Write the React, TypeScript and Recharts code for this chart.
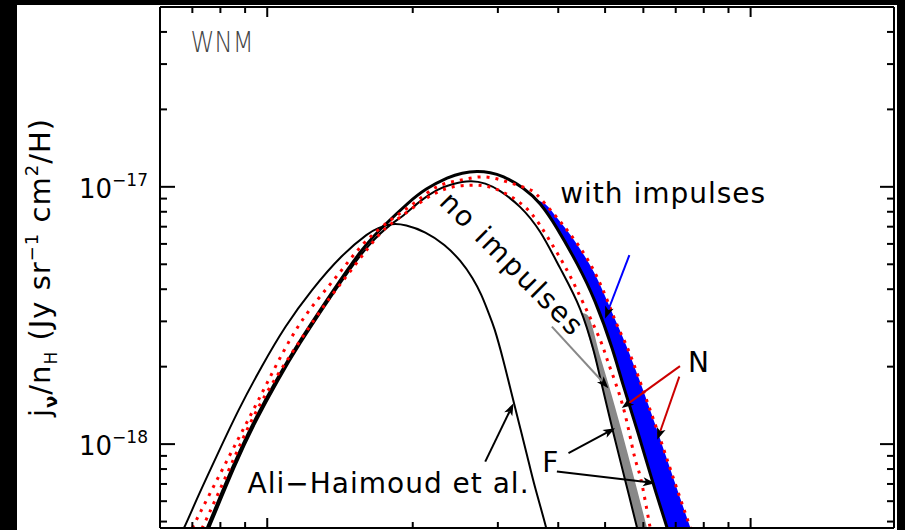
import {
  Area,
  ComposedChart,
  Line,
  ReferenceDot,
  ReferenceLine,
  XAxis,
  YAxis,
} from "recharts";

type Pt = [number, number];
type Band = [number, number, number];

// frequency (GHz) vs emissivity per H (Jy sr^-1 cm^2 / H)
const aliHaimoud: Pt[] = [
  [6.25, 3.55e-19], [6.73, 4.73e-19], [7.19, 6.25e-19], [7.85, 8.94e-19],
  [8.73, 1.358e-18], [9.74, 2.0e-18], [10.91, 2.86e-18], [12.38, 3.97e-18],
  [14.23, 5.35e-18], [16.03, 6.49e-18], [16.98, 6.91e-18], [18.07, 7.15e-18],
  [19.4, 7.07e-18], [21.24, 6.64e-18], [23.24, 5.94e-18], [25.08, 5.15e-18],
  [26.57, 4.42e-18], [27.72, 3.8e-18], [28.66, 3.26e-18], [29.56, 2.78e-18],
  [30.78, 2.12e-18], [31.97, 1.595e-18], [33.21, 1.198e-18], [34.5, 9.0e-19],
  [35.84, 6.76e-19], [37.76, 4.73e-19], [39.04, 3.55e-19],
];

const withImpulses: Pt[] = [
  [7.05, 3.55e-19], [7.52, 4.73e-19], [8.49, 8.15e-19], [9.43, 1.24e-18],
  [10.43, 1.76e-18], [11.62, 2.47e-18], [13.51, 3.8e-18], [15.59, 5.58e-18],
  [17.42, 7.04e-18], [19.47, 8.57e-18], [21.34, 9.8e-18], [23.55, 1.081e-17],
  [25.32, 1.13e-17], [27.16, 1.146e-17], [28.93, 1.135e-17], [30.83, 1.093e-17],
  [33.9, 9.86e-18], [36.71, 8.57e-18], [39.74, 6.91e-18], [43.71, 5.04e-18],
  [47.69, 3.57e-18], [51.69, 2.36e-18], [54.48, 1.7e-18], [58.5, 1.105e-18],
  [62.54, 7.26e-19], [67.07, 4.77e-19], [70.44, 3.55e-19],
];

const noImpulses: Pt[] = [
  [7.12, 3.55e-19], [7.59, 4.73e-19], [8.57, 8.15e-19], [9.52, 1.24e-18],
  [10.53, 1.76e-18], [11.73, 2.47e-18], [13.64, 3.8e-18], [15.74, 5.53e-18],
  [17.64, 6.91e-18], [19.15, 7.76e-18], [20.74, 8.8e-18], [22.45, 9.71e-18],
  [24.15, 1.024e-17], [26.3, 1.052e-17], [28.25, 1.029e-17], [30.34, 9.62e-18],
  [33.37, 8.34e-18], [36.71, 6.67e-18], [40.36, 4.83e-18], [44.4, 3.35e-18],
  [47.3, 2.32e-18], [48.84, 1.81e-18], [52.01, 1.105e-18], [55.0, 7.26e-19],
  [58.15, 4.77e-19], [60.46, 3.55e-19],
];

// red dotted "N" curves
const withImpulsesN: Pt[] = [
  [6.47, 3.55e-19], [7.0, 4.73e-19], [8.33, 8.92e-19], [9.59, 1.485e-18],
  [11.17, 2.56e-18], [12.69, 3.63e-18], [14.17, 4.68e-18], [15.84, 6.03e-18],
  [17.98, 7.42e-18], [20.09, 8.62e-18], [22.45, 1.0e-17], [25.08, 1.062e-17],
  [28.03, 1.093e-17], [31.32, 1.046e-17], [34.45, 9.86e-18], [36.18, 9.29e-18],
  [39.09, 7.88e-18], [42.34, 6.55e-18], [46.34, 5.1e-18], [50.0, 3.8e-18],
  [52.95, 2.9e-18], [55.86, 2.32e-18], [59.93, 1.62e-18], [64.44, 1.1e-18],
  [69.41, 7.26e-19], [74.93, 4.77e-19], [79.12, 3.55e-19],
];

const noImpulsesN: Pt[] = [
  [6.74, 3.55e-19], [7.34, 4.73e-19], [8.56, 8.92e-19], [9.83, 1.511e-18],
  [11.72, 2.54e-18], [13.3, 3.58e-18], [15.1, 4.89e-18], [17.14, 6.59e-18],
  [18.86, 7.64e-18], [21.07, 8.88e-18], [23.55, 9.86e-18], [26.3, 1.015e-17],
  [28.93, 9.97e-18], [31.82, 9.2e-18], [34.99, 7.97e-18], [38.13, 6.32e-18],
  [41.68, 4.75e-18], [45.1, 3.52e-18], [48.84, 2.54e-18], [50.95, 2.03e-18],
  [54.48, 1.395e-18], [57.41, 9.08e-19], [59.34, 7.26e-19], [61.93, 4.77e-19],
  [64.03, 3.55e-19],
];

// "F" ranges: [nu, lower, upper]
const withImpulsesF: Band[] = [
  [35.84, 8.93e-18, 8.93e-18], [37.58, 8.03e-18, 8.57e-18],
  [39.8, 6.88e-18, 7.56e-18], [43.76, 5.01e-18, 5.97e-18],
  [47.69, 3.57e-18, 4.56e-18], [51.69, 2.36e-18, 3.25e-18],
  [55.0, 1.603e-18, 2.48e-18], [58.5, 1.105e-18, 1.834e-18],
  [62.54, 7.26e-19, 1.293e-18], [67.15, 4.72e-19, 8.74e-19],
  [71.43, 3.26e-19, 6.2e-19], [76.72, 2.0e-19, 4.2e-19],
];

const noImpulsesF: Band[] = [
  [44.82, 3.23e-18, 3.23e-18], [45.9, 2.76e-18, 3.18e-18],
  [48.84, 1.81e-18, 2.19e-18], [51.69, 1.16e-18, 1.53e-18],
  [55.0, 7.26e-19, 1.004e-18], [58.23, 4.72e-19, 6.66e-19],
  [61.93, 2.97e-19, 4.25e-19],
];

const X_TICKS = [7, 8, 9, 10, 20, 30, 40, 50, 60, 70, 80, 90, 100];
const Y_TICKS = [
  5e-19, 6e-19, 7e-19, 8e-19, 9e-19,
  1e-18, 2e-18, 3e-18, 4e-18, 5e-18, 6e-18, 7e-18, 8e-18, 9e-18,
  1e-17, 2e-17, 3e-17, 4e-17,
];
const X_DOMAIN: [number, number] = [6, 198];
const Y_DOMAIN: [number, number] = [4.72e-19, 5e-17];

// arrows: [nuFrom, jFrom, nuTo, jTo, colour]
const arrows: [number, number, number, number, string][] = [
  [56.13, 5.43e-18, 50.0, 3.08e-18, "#0000ff"],
  [38.8, 2.86e-18, 50.79, 1.65e-18, "#888888"],
  [71.43, 2.01e-18, 54.13, 1.38e-18, "#cc0000"],
  [71.2, 1.83e-18, 64.12, 1.04e-18, "#cc0000"],
  [42.0, 9.22e-19, 52.44, 1.153e-18, "#000000"],
  [39.74, 7.82e-19, 63.43, 7.05e-19, "#000000"],
  [28.25, 8.55e-19, 32.32, 1.44e-18, "#000000"],
];

// labels: [text, nu, j]
const labels: [string, number, number][] = [
  ["with impulses", 40.36, 8.62e-18],
  ["N", 74.22, 1.91e-18],
  ["F", 37.06, 7.82e-19],
  ["Ali\u2212Haimoud et al.", 9.107, 6.46e-19],
];

const FONT = "DejaVu Sans";

const toRows = (pts: Pt[]) => pts.map(([nu, j]) => ({ nu, j }));
const toBand = (rows: Band[]) => rows.map(([nu, lo, hi]) => ({ nu, range: [lo, hi] }));

const isDecade = (v: number) => Math.abs(Math.log10(v) - Math.round(Math.log10(v))) < 1e-6;

function LeftTick(props: any) {
  const { x, y, payload } = props;
  const major = isDecade(payload.value);
  const exp = Math.round(Math.log10(payload.value));
  return (
    <g>
      <line x1={x} y1={y} x2={x + (major ? 15 : 7)} y2={y} stroke="#000" strokeWidth={2} />
      {major && (
        <text x={x - 12} y={y + 11} textAnchor="end" fontFamily={FONT} fontSize={26} fill="#000">
          10
          <tspan dy={-12} fontSize={17}>
            {"\u2212" + Math.abs(exp)}
          </tspan>
        </text>
      )}
    </g>
  );
}

function RightTick(props: any) {
  const { x, y, payload } = props;
  const len = isDecade(payload.value) ? 14 : 7;
  return <line x1={x} y1={y} x2={x - len} y2={y} stroke="#000" strokeWidth={2} />;
}

function TopTick(props: any) {
  const { x, y, payload } = props;
  const len = isDecade(payload.value) ? 10 : 6;
  return <line x1={x} y1={y} x2={x} y2={y + len} stroke="#000" strokeWidth={2} />;
}

function BottomTick(props: any) {
  const { x, y, payload } = props;
  const len = isDecade(payload.value) ? 10 : 6;
  return <line x1={x} y1={y} x2={x} y2={y - len} stroke="#000" strokeWidth={2} />;
}

function arrowShape(colour: string) {
  return (p: any) => {
    const { x1, y1, x2, y2 } = p;
    const a = Math.atan2(y2 - y1, x2 - x1);
    const c = Math.cos(a);
    const s = Math.sin(a);
    const bx = x2 - 12 * c;
    const by = y2 - 12 * s;
    const nx = x2 - 9 * c;
    const ny = y2 - 9 * s;
    const pts = [
      `${x2},${y2}`,
      `${bx - 4.5 * s},${by + 4.5 * c}`,
      `${nx},${ny}`,
      `${bx + 4.5 * s},${by - 4.5 * c}`,
    ].join(" ");
    return (
      <g>
        <line x1={x1} y1={y1} x2={nx} y2={ny} stroke={colour} strokeWidth={2} />
        <polygon points={pts} fill="#000" />
      </g>
    );
  };
}

function YLabel(props: any) {
  const vb = props.viewBox || { y: 7, height: 521 };
  const cx = 50;
  const cy = vb.y + vb.height / 2;
  return (
    <text
      x={cx}
      y={cy}
      transform={`rotate(-90 ${cx} ${cy})`}
      textAnchor="middle"
      fontFamily={FONT}
      fontSize={29}
      letterSpacing={1}
      fill="#000"
    >
      j<tspan dy={7} fontSize={18} fontWeight="bold">{"\u03bd"}</tspan>
      <tspan dy={-7}>/n</tspan>
      <tspan dy={7} fontSize={17}>H</tspan>
      <tspan dy={-7}>{" (Jy sr"}</tspan>
      <tspan dy={-12} fontSize={18}>{"\u22121"}</tspan>
      <tspan dy={12}>{" cm"}</tspan>
      <tspan dy={-12} fontSize={18}>2</tspan>
      <tspan dy={12}>/H)</tspan>
    </text>
  );
}

const lineBase = { type: "natural" as const, dataKey: "j", dot: false, isAnimationActive: false };
const axisLine = { stroke: "#000", strokeWidth: 2 };

export default function App() {
  return (
    <div style={{ position: "fixed", left: 0, top: 0, width: 905, height: 530, background: "#000", overflow: "hidden" }}>
      <div style={{ position: "absolute", left: 17, top: 5, width: 880, height: 525, background: "#fff" }} />
      <div style={{ position: "absolute", left: 0, top: 0 }}>
        <ComposedChart width={905} height={530} margin={{ top: 6, right: 10, bottom: 1, left: 159 }}>
          <XAxis
            type="number"
            dataKey="nu"
            scale="log"
            domain={X_DOMAIN}
            allowDataOverflow
            ticks={X_TICKS}
            interval={0}
            height={1}
            tickSize={0}
            tickMargin={0}
            tickLine={false}
            axisLine={axisLine}
            tick={(p: any) => <BottomTick {...p} />}
          />
          <XAxis
            xAxisId="top"
            orientation="top"
            type="number"
            dataKey="nu"
            scale="log"
            domain={X_DOMAIN}
            allowDataOverflow
            ticks={X_TICKS}
            interval={0}
            height={1}
            tickSize={0}
            tickMargin={0}
            tickLine={false}
            axisLine={axisLine}
            tick={(p: any) => <TopTick {...p} />}
          />
          <YAxis
            type="number"
            scale="log"
            domain={Y_DOMAIN}
            allowDataOverflow
            ticks={Y_TICKS}
            interval={0}
            width={1}
            tickSize={0}
            tickMargin={0}
            tickLine={false}
            axisLine={axisLine}
            tick={(p: any) => <LeftTick {...p} />}
            label={<YLabel />}
          />
          <YAxis
            yAxisId="right"
            orientation="right"
            type="number"
            scale="log"
            domain={Y_DOMAIN}
            allowDataOverflow
            ticks={Y_TICKS}
            interval={0}
            width={1}
            tickSize={0}
            tickMargin={0}
            tickLine={false}
            axisLine={axisLine}
            tick={(p: any) => <RightTick {...p} />}
          />

          <Area
            data={toBand(withImpulsesF)}
            type="monotone"
            dataKey="range"
            fill="#0000ff"
            fillOpacity={1}
            stroke="none"
            isAnimationActive={false}
          />
          <Area
            data={toBand(noImpulsesF)}
            type="monotone"
            dataKey="range"
            fill="#888888"
            fillOpacity={1}
            stroke="none"
            isAnimationActive={false}
          />

          <Line {...lineBase} data={toRows(aliHaimoud)} stroke="#000" strokeWidth={2} />
          <Line {...lineBase} data={toRows(noImpulses)} stroke="#000" strokeWidth={2} />
          <Line {...lineBase} data={toRows(withImpulses)} stroke="#000" strokeWidth={3} />
          <Line
            {...lineBase}
            data={toRows(noImpulsesN)}
            stroke="#ff0000"
            strokeWidth={3}
            strokeDasharray="3 6"
          />
          <Line
            {...lineBase}
            data={toRows(withImpulsesN)}
            stroke="#ff0000"
            strokeWidth={3}
            strokeDasharray="3 6"
          />
          <Line
            {...lineBase}
            xAxisId="top"
            yAxisId="right"
            data={toRows(withImpulses)}
            stroke="none"
            legendType="none"
          />

          {arrows.map(([n1, j1, n2, j2, colour], i) => (
            <ReferenceLine
              key={`arrow-${i}`}
              segment={[
                { x: n1, y: j1 },
                { x: n2, y: j2 },
              ]}
              shape={arrowShape(colour)}
            />
          ))}

          {labels.map(([text, nu, j]) => (
            <ReferenceDot
              key={text}
              x={nu}
              y={j}
              r={0}
              ifOverflow="visible"
              shape={(p: any) => (
                <text x={p.cx} y={p.cy} fontFamily={FONT} fontSize={28} letterSpacing={1} fill="#000">
                  {text}
                </text>
              )}
            />
          ))}
          <ReferenceDot
            x={32.12}
            y={5.01e-18}
            r={0}
            ifOverflow="visible"
            shape={(p: any) => (
              <text
                x={p.cx}
                y={p.cy}
                transform={`rotate(45 ${p.cx} ${p.cy})`}
                textAnchor="middle"
                dominantBaseline="central"
                fontFamily={FONT}
                fontSize={28}
                letterSpacing={2}
                fill="#000"
              >
                no impulses
              </text>
            )}
          />
          <ReferenceDot
            x={6.94}
            y={3.33e-17}
            r={0}
            ifOverflow="visible"
            shape={(p: any) => (
              <text
                x={p.cx}
                y={p.cy}
                fontFamily={FONT}
                fontWeight={200}
                fontSize={28}
                textLength={63}
                lengthAdjust="spacingAndGlyphs"
                fill="#444"
              >
                WNM
              </text>
            )}
          />
        </ComposedChart>
      </div>
    </div>
  );
}
